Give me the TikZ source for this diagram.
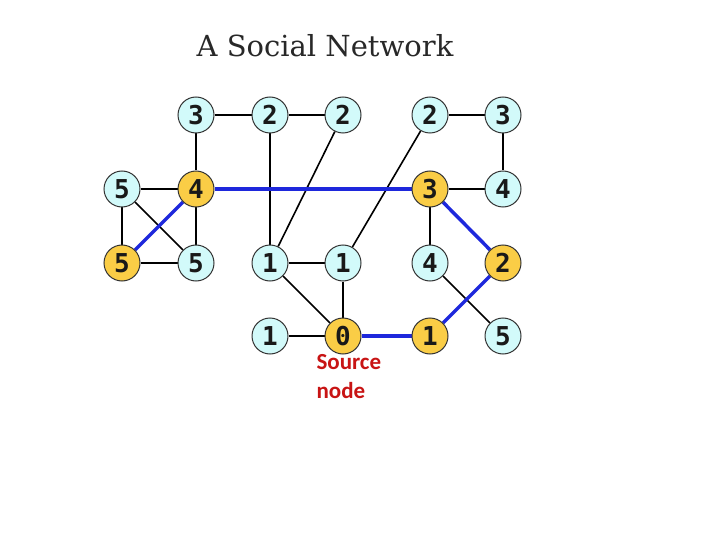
\documentclass[tikz,border=0pt]{standalone}
\usepackage{fontspec}
\usetikzlibrary{backgrounds}
\setmainfont{DejaVu Serif}
\newfontfamily\digitfont{DejaVu Sans Mono}
\newfontfamily\labelfont{Carlito}
\definecolor{cyanfill}{RGB}{210,250,250}
\definecolor{goldfill}{RGB}{250,205,70}
\definecolor{pathblue}{RGB}{30,40,220}
\definecolor{srcred}{RGB}{200,20,20}
\definecolor{titlegray}{RGB}{40,40,40}
\begin{document}
\begin{tikzpicture}[x=1pt,y=-1pt,
  vtx/.style={circle,draw=black!80,line width=1pt,minimum size=36pt,inner sep=0pt,
    font=\digitfont\bfseries\fontsize{26}{26}\selectfont,text=black!90},
  plain/.style={vtx,fill=cyanfill},
  hit/.style={vtx,fill=goldfill},
  edge/.style={draw=black,line width=1.6pt},
  bedge/.style={draw=pathblue,line width=3.5pt}]
\useasboundingbox (0,0) rectangle (720,540);
\node[anchor=base,text=titlegray,font=\fontsize{29}{29}\selectfont] (title) at (325,57) {A Social Network};
% row 1
\node[plain] (a1) at (196,115) {3};
\node[plain] (a2) at (270,115) {2};
\node[plain] (a3) at (343,115) {2};
\node[plain] (a4) at (430,115) {2};
\node[plain] (a5) at (503,115) {3};
% row 2
\node[plain] (b0) at (122,189) {5};
\node[hit] (b1) at (196,189) {4};
\node[hit] (b4) at (430,189) {3};
\node[plain] (b5) at (503,189) {4};
% row 3
\node[hit] (c0) at (122,263) {5};
\node[plain] (c1) at (196,263) {5};
\node[plain] (c2) at (270,263) {1};
\node[plain] (c3) at (343,263) {1};
\node[plain] (c4) at (430,263) {4};
\node[hit] (c5) at (503,263) {2};
% row 4
\node[plain] (d2) at (270,336) {1};
\node[hit] (d3) at (343,336) {0};
\node[hit] (d4) at (430,336) {1};
\node[plain] (d5) at (503,336) {5};
\begin{scope}[on background layer]
% black edges
\path[edge] (a1) -- (a2);
\path[edge] (a2) -- (a3);
\path[edge] (a1) -- (b1);
\path[edge] (a2) -- (c2);
\path[edge] (a3) -- (c2);
\path[edge] (b0) -- (b1);
\path[edge] (b0) -- (c0);
\path[edge] (b0) -- (c1);
\path[edge] (b1) -- (c1);
\path[edge] (c0) -- (c1);
\path[edge] (c2) -- (c3);
\path[edge] (c2) -- (d3);
\path[edge] (c3) -- (d3);
\path[edge] (c3) -- (a4);
\path[edge] (d2) -- (d3);
\path[edge] (c4) -- (d5);
\path[edge] (b4) -- (c4);
\path[edge] (b4) -- (b5);
\path[edge] (a4) -- (a5);
\path[edge] (a5) -- (b5);
% blue path edges
\path[bedge] (b1) -- (c0);
\path[bedge] (b1) -- (b4);
\path[bedge] (b4) -- (c5);
\path[bedge] (d3) -- (d4);
\path[bedge] (d4) -- (c5);
\end{scope}
\node[anchor=base west,text=srcred,align=left,
  font=\labelfont\bfseries\fontsize{23}{29}\selectfont] (src) at (313,398) {Source\\node};
\end{tikzpicture}
\end{document}
